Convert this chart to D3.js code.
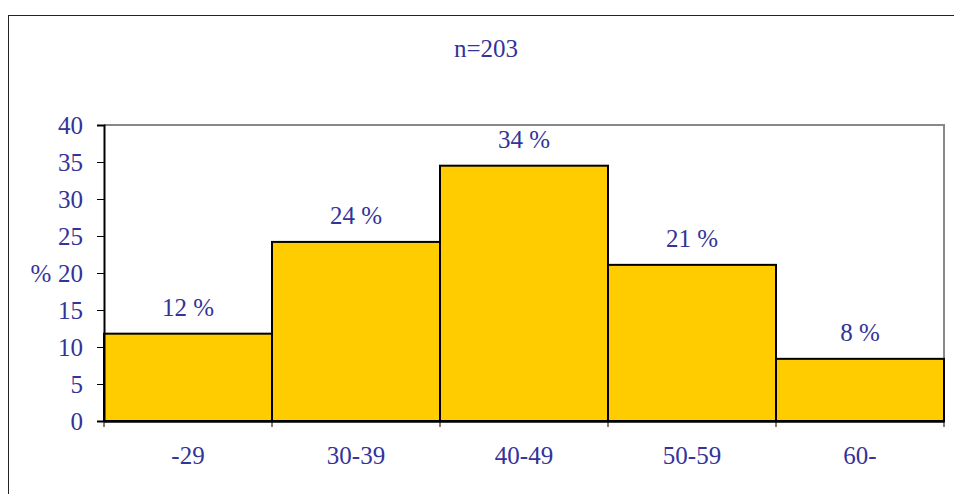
<!DOCTYPE html>
<html>
<head>
<meta charset="utf-8">
<script src="https://cdn.jsdelivr.net/npm/d3@7"></script>
<style>
  html, body { margin: 0; padding: 0; background: #fff; }
  text { font-family: "Liberation Serif", "Times New Roman", serif; fill: #333399; }
</style>
</head>
<body>
<div id="chart"></div>
<script>
const ageGroups = ["-29", "30-39", "40-49", "50-59", "60-"];
const shares = [11.8, 24.2, 34.5, 21.1, 8.4];
const shareLabels = ["12 %", "24 %", "34 %", "21 %", "8 %"];
const yTicks = [0, 5, 10, 15, 20, 25, 30, 35, 40];
const title = "n=203";

const W = 954, H = 494;
const margin = {top: 125, right: 10, bottom: 73, left: 104};
const width = W - margin.left - margin.right,
      height = H - margin.top - margin.bottom;
const fs = "25px";

const svg = d3.select("#chart").append("svg")
    .attr("width", W).attr("height", H);

// outer frame
svg.append("rect")
    .attr("x", 8.5).attr("y", 15.5)
    .attr("width", W + 20).attr("height", H + 20)
    .attr("fill", "none").attr("stroke", "#222").attr("stroke-width", 1);

svg.append("text")
    .attr("x", 486).attr("y", 57)
    .attr("text-anchor", "middle")
    .style("font-size", fs)
    .text(title);

const g = svg.append("g")
    .attr("transform", "translate(" + margin.left + "," + margin.top + ")");

const x = d3.scaleBand().domain(ageGroups).range([0, width]).padding(0);
const y = d3.scaleLinear().domain([0, 40]).range([height, 0]);

// plot frame top + right (grey)
g.append("path")
    .attr("d", "M0," + y(40) + "H" + width + "V" + height)
    .attr("fill", "none").attr("stroke", "#888").attr("stroke-width", 2);

g.selectAll(".bar").data(shares).enter().append("rect")
    .attr("class", "bar")
    .attr("x", (d, i) => x(ageGroups[i]))
    .attr("y", d => y(d))
    .attr("width", x.bandwidth())
    .attr("height", d => height - y(d))
    .attr("fill", "#FFCC00")
    .attr("stroke", "#000")
    .attr("stroke-width", 2);

g.selectAll(".val").data(shares).enter().append("text")
    .attr("class", "val")
    .attr("x", (d, i) => x(ageGroups[i]) + x.bandwidth() / 2)
    .attr("y", d => y(d) - 18)
    .attr("text-anchor", "middle")
    .style("font-size", fs)
    .text((d, i) => shareLabels[i]);

// y axis
const yAxis = g.append("g")
    .call(d3.axisLeft(y).tickValues(yTicks).tickSize(7).tickPadding(14));
yAxis.select(".domain").attr("stroke", "#000").attr("stroke-width", 2);
yAxis.selectAll("line").attr("stroke", "#000");
yAxis.selectAll("text")
    .style("font-size", fs)
    .style("font-family", "'Liberation Serif', serif")
    .attr("fill", "#333399");

// x axis
const xAxis = g.append("g")
    .attr("transform", "translate(0," + height + ")")
    .call(d3.axisBottom(x).tickSize(0).tickPadding(25));
xAxis.select(".domain").attr("stroke", "#000").attr("stroke-width", 2.5);
xAxis.selectAll("text")
    .style("font-size", fs)
    .style("font-family", "'Liberation Serif', serif")
    .attr("fill", "#333399");

// tick marks at category boundaries
const bounds = ageGroups.map(c => x(c)).concat([width]);
xAxis.selectAll(".bound").data(bounds).enter().append("line")
    .attr("class", "bound")
    .attr("x1", d => d).attr("x2", d => d)
    .attr("y1", 0).attr("y2", 6)
    .attr("stroke", "#000");

svg.append("text")
    .attr("x", 41).attr("y", margin.top + y(20))
    .attr("dy", "0.35em")
    .attr("text-anchor", "middle")
    .style("font-size", fs)
    .text("%");
</script>
</body>
</html>
